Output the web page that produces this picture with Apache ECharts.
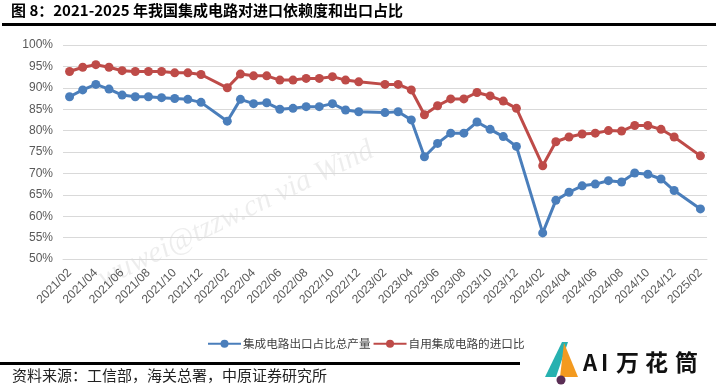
<!DOCTYPE html>
<html>
<head>
<meta charset="utf-8">
<script src="https://cdn.jsdelivr.net/npm/echarts@6/dist/echarts.min.js"></script>
<style>
html,body{margin:0;padding:0;background:#fff;}
#c{width:718px;height:391px;}
</style>
</head>
<body>
<div id="c"></div>
<script>
var categories = [
 '2021/02','2021/03','2021/04','2021/05','2021/06','2021/07','2021/08','2021/09','2021/10','2021/11','2021/12',
 '2022/01','2022/02','2022/03','2022/04','2022/05','2022/06','2022/07','2022/08','2022/09','2022/10','2022/11','2022/12',
 '2023/01','2023/02','2023/03','2023/04','2023/05','2023/06','2023/07','2023/08','2023/09','2023/10','2023/11','2023/12',
 '2024/01','2024/02','2024/03','2024/04','2024/05','2024/06','2024/07','2024/08','2024/09','2024/10','2024/11','2024/12',
 '2025/01','2025/02'
];
var exportShare = [
 87.9, 89.5, 90.8, 89.7, 88.3, 87.9, 87.9, 87.7, 87.5, 87.3, 86.6,
 null, 82.2, 87.3, 86.3, 86.5, 85.0, 85.2, 85.6, 85.6, 86.3, 84.8, 84.4,
 null, 84.2, 84.4, 82.5, 73.9, 77.0, 79.4, 79.4, 82.0, 80.3, 78.6, 76.3,
 null, 56.1, 63.7, 65.6, 67.1, 67.5, 68.3, 68.0, 70.1, 69.8, 68.7, 66.0,
 null, 61.7
];
var importShare = [
 93.8, 94.8, 95.4, 94.8, 94.0, 93.8, 93.8, 93.8, 93.5, 93.5, 93.1,
 null, 90.0, 93.2, 92.8, 92.8, 91.8, 91.8, 92.2, 92.2, 92.6, 91.8, 91.4,
 null, 90.8, 90.8, 89.5, 83.7, 85.8, 87.4, 87.4, 88.9, 88.1, 86.9, 85.2,
 null, 71.8, 77.4, 78.5, 79.2, 79.4, 80.0, 79.9, 81.2, 81.2, 80.3, 78.5,
 null, 74.1
];
var seriesNames = ['集成电路出口占比总产量', '自用集成电路的进口比'];
var titleText = '图 8：2021-2025 年我国集成电路对进口依赖度和出口占比';
var sourceText = '资料来源：工信部，海关总署，中原证券研究所';

var chart = echarts.init(document.getElementById('c'), null, {renderer:'canvas'});
var axisFont = '"Liberation Sans Narrow","Liberation Sans",Arial,sans-serif';
chart.setOption({
  animation:false,
  backgroundColor:'#fff',
  grid:{left:63, right:11, top:45, bottom:132, containLabel:false},
  legend:{
    top:333, left:202,
    itemWidth:33, itemHeight:10, itemGap:2,
    textStyle:{fontSize:11.6, color:'#404040', fontFamily:'"Noto Sans CJK SC",sans-serif', padding:[0,0,0,-3]},
    data:seriesNames
  },
  xAxis:{
    type:'category', data:categories, boundaryGap:true,
    axisLine:{show:true, lineStyle:{color:'#d9d9d9', width:1}},
    axisTick:{show:false},
    axisLabel:{interval:1, rotate:45, fontSize:12, color:'#595959', margin:12, fontFamily:axisFont}
  },
  yAxis:{
    type:'value', min:50, max:100, interval:5,
    axisLine:{show:false}, axisTick:{show:false},
    splitLine:{lineStyle:{color:'#d9d9d9', width:1}},
    axisLabel:{formatter:'{value}%', fontSize:12, color:'#595959', margin:10, fontFamily:axisFont}
  },
  series:[
    {name:seriesNames[0], type:'line', data:exportShare, connectNulls:true, showAllSymbol:true,
     symbol:'circle', symbolSize:9, color:'#4a7ebb',
     lineStyle:{width:3, color:'#4a7ebb'}, itemStyle:{color:'#4a7ebb'}},
    {name:seriesNames[1], type:'line', data:importShare, connectNulls:true, showAllSymbol:true,
     symbol:'circle', symbolSize:9, color:'#be4b48',
     lineStyle:{width:3, color:'#be4b48'}, itemStyle:{color:'#be4b48'}}
  ],
  graphic:[
    {type:'text', left:11, top:3, style:{text:titleText, font:'bold 15px "Noto Sans CJK SC",sans-serif', fill:'#000'}},
    {type:'rect', shape:{x:2, y:23, width:714, height:3}, style:{fill:'#000'}},
    {type:'rect', shape:{x:0, y:362, width:520, height:3}, style:{fill:'#000'}},
    {type:'text', left:12, top:368, style:{text:sourceText, font:'15px "Noto Sans CJK SC",sans-serif', fill:'#222'}},
    {type:'text', x:106, y:294, rotation:0.45, silent:true, z:-1,
     style:{text:'wuwei@tzzw.cn via Wind', font:'italic 30px "Liberation Serif",serif', fill:'rgba(0,0,0,0.07)', textVerticalAlign:'bottom'}},
    {type:'polygon', shape:{points:[[545,377],[562,342],[568,342],[556,377]]}, style:{fill:'#27b1b0'}},
    {type:'polygon', shape:{points:[[564,343],[578,377],[560,377]]}, style:{fill:'#f39a1f'}},
    {type:'circle', shape:{cx:561, cy:380, r:4.5}, style:{fill:'#5a2e55'}},
    {type:'text', x:583, y:352, style:{text:'A', font:'bold 22px "Noto Sans CJK SC",sans-serif', fill:'#111'}},
    {type:'text', x:601, y:352, style:{text:'I', font:'bold 22px "Noto Sans CJK SC",sans-serif', fill:'#111'}},
    {type:'text', x:616, y:351, style:{text:'万', font:'bold 23px "Noto Sans CJK SC",sans-serif', fill:'#111'}},
    {type:'text', x:645, y:351, style:{text:'花', font:'bold 23px "Noto Sans CJK SC",sans-serif', fill:'#111'}},
    {type:'text', x:675, y:351, style:{text:'筒', font:'bold 23px "Noto Sans CJK SC",sans-serif', fill:'#111'}}
  ]
});
</script>
</body>
</html>
